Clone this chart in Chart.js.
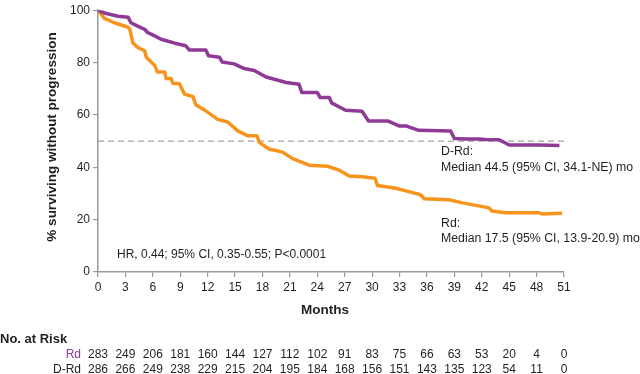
<!DOCTYPE html>
<html>
<head>
<meta charset="utf-8">
<script src="https://cdn.jsdelivr.net/npm/chart.js@4/dist/chart.umd.min.js"></script>
<style>
  html, body { margin: 0; padding: 0; background: #fff; }
  #wrap { width: 640px; height: 374px; }
</style>
</head>
<body>
<div id="wrap"><canvas id="c" width="640" height="374"></canvas></div>
<script>
// ---- Data ----
const tickMonths = [0,3,6,9,12,15,18,21,24,27,30,33,36,39,42,45,48,51];
const riskRd  = [283,249,206,181,160,144,127,112,102,91,83,75,66,63,53,20,4,0];
const riskDRd = [286,266,249,238,229,215,204,195,184,168,156,151,143,135,123,54,11,0];

const rdMonths = [0,0.7,1.8,3.3,3.5,3.8,4.35,5.1,5.3,6.2,6.5,7.3,7.45,8.0,8.2,8.9,9.45,10.4,10.7,11.6,13.1,14.2,15.3,16.4,17.4,17.65,18.7,20.2,21.3,23.1,25.1,26.4,27.5,28.9,30.3,30.6,32.6,33.7,35.3,35.7,38.4,39.9,42.8,43.1,44.6,48.3,48.6,50.8];
const rdSurv   = [100,96.9,95.2,93.5,92.5,87.6,85.8,84.5,82,78.9,76.4,76.4,73.9,73.9,72,72,68,67,63.9,62,58.3,57.3,53.9,52,52,49.5,47,45.8,43.3,40.8,40.4,38.9,36.7,36.4,35.8,33,32,31,29.5,28,27.6,26.4,24.5,23.3,22.6,22.6,22.2,22.4];

const drdMonths = [0,0.7,2.2,3.3,3.6,4.35,5.1,5.45,6.2,6.9,8.4,9.6,10.0,11.8,12.1,13.3,13.6,14.9,16.0,17.1,18.4,20.6,22.0,22.3,24.0,24.3,25.3,25.6,27.1,28.9,29.6,31.7,32.95,33.7,35.1,38.6,39.0,40.2,41.7,42.4,43.9,45.0,48.3,50.5];
const drdSurv   = [100,98.9,97.7,97.3,95.2,93.9,92.7,91.4,90.2,88.9,87.4,86.4,84.8,84.8,82.6,82,80.2,79.5,77.7,77,74.5,72.4,71.7,68.6,68.6,66.7,66.7,64.5,61.8,61.4,57.7,57.7,55.8,55.8,54.1,53.9,51,50.8,50.8,50.6,50.5,48.5,48.5,48.3];

const medianLine = [50, 50];
const medianLineMonths = [0, 51];

// ---- Styles ----
const PURPLE = '#8E3A96';
const ORANGE = '#F7941E';
const TEXT = '#231F20';
const AXIS = '#999999';
const FONT = '"Liberation Sans", Arial, Helvetica, sans-serif';

const toXY = (xs, ys) => xs.map((x, i) => ({x: x, y: ys[i]}));

const textPlugin = {
  id: 'texts',
  afterDraw(chart) {
    const ctx = chart.ctx;
    const xs = chart.scales.x;
    ctx.save();
    ctx.fillStyle = TEXT;
    ctx.textBaseline = 'middle';

    // Y axis title
    ctx.save();
    ctx.translate(52, 137);
    ctx.rotate(-Math.PI / 2);
    ctx.textAlign = 'center';
    ctx.font = 'bold 13.5px ' + FONT;
    ctx.fillText('% surviving without progression', 0, 0);
    ctx.restore();

    // X axis title
    ctx.textAlign = 'center';
    ctx.font = 'bold 13.5px ' + FONT;
    ctx.fillText('Months', 325, 310);

    // annotations
    ctx.textAlign = 'left';
    ctx.font = '12.3px ' + FONT;
    ctx.fillText('D-Rd:', 441, 152);
    ctx.fillText('Median 44.5 (95% CI, 34.1-NE) mo', 441, 168);
    ctx.fillText('Rd:', 441, 224);
    ctx.fillText('Median 17.5 (95% CI, 13.9-20.9) mo', 441, 239);
    ctx.font = '12px ' + FONT;
    ctx.fillText('HR, 0.44; 95% CI, 0.35-0.55; P<0.0001', 117, 255);

    // Number at risk table
    ctx.font = 'bold 13px ' + FONT;
    ctx.fillText('No. at Risk', 0, 339);
    ctx.font = '12px ' + FONT;
    ctx.textAlign = 'right';
    ctx.fillStyle = PURPLE;
    ctx.fillText('Rd', 81, 355);
    ctx.fillStyle = TEXT;
    ctx.fillText('D-Rd', 81, 370);
    ctx.textAlign = 'center';
    tickMonths.forEach((m, i) => {
      const px = xs.getPixelForValue(m);
      ctx.fillText(String(riskRd[i]), px, 355);
      ctx.fillText(String(riskDRd[i]), px, 370);
    });
    ctx.restore();
  }
};

Chart.defaults.font.family = FONT;
Chart.defaults.font.size = 12;
Chart.defaults.color = TEXT;

new Chart(document.getElementById('c'), {
  type: 'line',
  data: {
    datasets: [
      { label: 'D-Rd', data: toXY(drdMonths, drdSurv), borderColor: PURPLE, borderWidth: 3.5, pointRadius: 0, tension: 0, fill: false, borderJoinStyle: 'round' },
      { label: 'Rd', data: toXY(rdMonths, rdSurv), borderColor: ORANGE, borderWidth: 3.5, pointRadius: 0, tension: 0, fill: false, borderJoinStyle: 'round' },
      { label: 'median', data: toXY(medianLineMonths, medianLine), borderColor: '#8A8A8A', borderWidth: 1, borderDash: [6, 4], pointRadius: 0, fill: false }
    ]
  },
  options: {
    responsive: false,
    animation: false,
    devicePixelRatio: 1,
    layout: { padding: { top: 5, right: 76, left: 0, bottom: 0 } },
    plugins: { legend: { display: false }, tooltip: { enabled: false } },
    scales: {
      x: {
        type: 'linear', min: 0, max: 51,
        afterFit: s => { s.height = 102; },
        afterBuildTicks: s => { s.ticks = tickMonths.map(v => ({value: v})); },
        ticks: { color: TEXT, font: { size: 12 }, padding: 3, maxRotation: 0, autoSkip: false },
        grid: { drawOnChartArea: false, tickLength: 5, color: AXIS, lineWidth: 1.2 },
        border: { color: AXIS, width: 1.5 }
      },
      y: {
        min: 0, max: 100,
        afterFit: s => { s.width = 98; },
        ticks: { stepSize: 20, color: TEXT, font: { size: 12 }, padding: 3 },
        grid: { drawOnChartArea: false, tickLength: 5, color: AXIS, lineWidth: 1.2 },
        border: { color: AXIS, width: 1.5 }
      }
    }
  },
  plugins: [textPlugin]
});
</script>
</body>
</html>
